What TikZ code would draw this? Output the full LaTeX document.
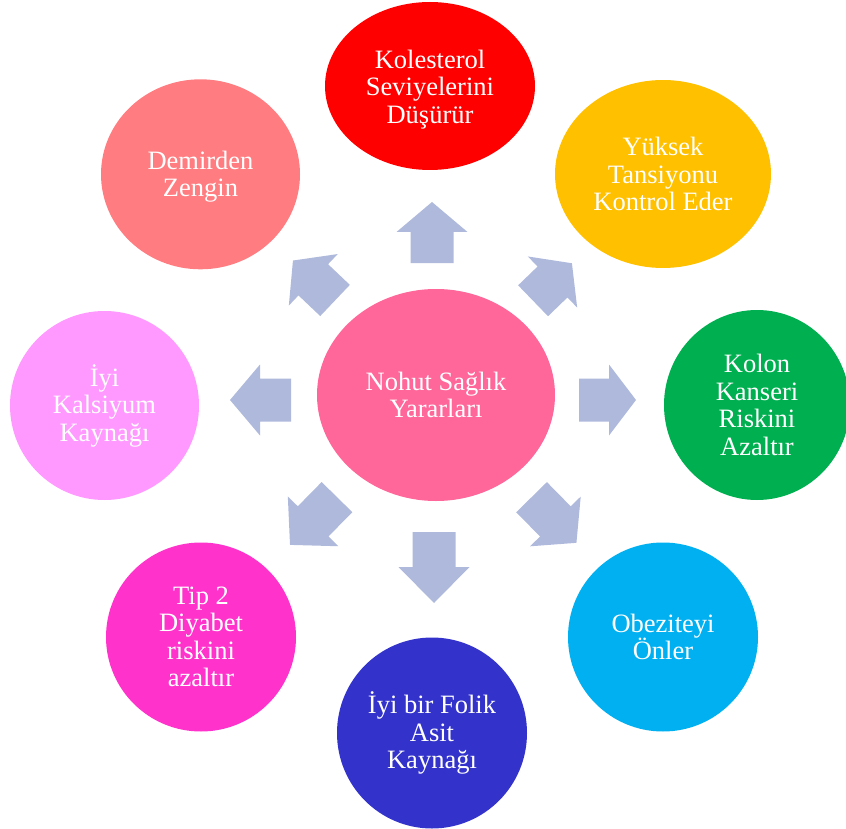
\documentclass[tikz,border=0pt]{standalone}
\usepackage{fontspec}
\setmainfont{Liberation Serif}
\usetikzlibrary{shapes.geometric}
\definecolor{cCenter}{HTML}{FF6699}
\definecolor{cKol}{HTML}{FF0000}
\definecolor{cYuk}{HTML}{FFC000}
\definecolor{cKolon}{HTML}{00B050}
\definecolor{cObe}{HTML}{00B0F0}
\definecolor{cFol}{HTML}{3333CC}
\definecolor{cTip}{HTML}{FF33CC}
\definecolor{cKal}{HTML}{FF99FF}
\definecolor{cDem}{HTML}{FF7C80}
\definecolor{cArr}{HTML}{AEB9DB}
\tikzset{
  bubble/.style={ellipse, inner sep=0pt, text=white, align=center,
    font=\fontsize{26.5}{27.5}\selectfont},
  arrowfill/.style={fill=cArr}
}
\newcommand\myblockarrow[5]{%
  \begin{scope}[shift={(#1,#2)},rotate=#3]
    \fill[arrowfill] (-#4/2,-21.5) -- ({#4/2-#5},-21.5) -- ({#4/2-#5},-35.5) -- (#4/2,0)
      -- ({#4/2-#5},35.5) -- ({#4/2-#5},21.5) -- (-#4/2,21.5) -- cycle;
  \end{scope}}
% pad the top of the text box by #1 so that the text sits #1/2 lower in the node
\newcommand\mylowered[2]{\raisebox{0pt}[\dimexpr\height+#1pt\relax][\depth]{\begin{tabular}{@{}c@{}}#2\end{tabular}}}
\begin{document}
\begin{tikzpicture}[x=1pt,y=-1pt]
\useasboundingbox (0,0) rectangle (846,829);
% arrows
\myblockarrow{432}{232.5}{90}{61}{30}
\myblockarrow{552.5}{282}{44}{54}{27}
\myblockarrow{607.5}{400}{0}{57}{27}
\myblockarrow{554}{520}{-45.5}{64}{30}
\myblockarrow{434}{567.5}{-90}{71}{36}
\myblockarrow{313.5}{521}{225.5}{67}{33}
\myblockarrow{260.5}{400}{180}{61}{30}
\myblockarrow{314}{280.5}{136.5}{58}{28}
% center
\node[bubble, fill=cCenter, minimum width=238pt, minimum height=212pt] (center) at (436,395) {Nohut Sağlık\\Yararları};
% outer
\node[bubble, fill=cKol, minimum width=210pt, minimum height=168pt] (kol) at (430,86) {\mylowered{9}{Kolesterol\\Seviyelerini\\Düşürür}};
\node[bubble, fill=cYuk, minimum width=216pt, minimum height=188pt] (yuk) at (663,174) {Yüksek\\Tansiyonu\\Kontrol Eder};
\node[bubble, fill=cKolon, minimum width=186pt, minimum height=190pt] (kolon) at (757,405) {Kolon\\Kanseri\\Riskini\\Azaltır};
\node[bubble, fill=cObe, minimum width=190pt, minimum height=189pt] (obe) at (663,637) {Obeziteyi\\Önler};
\node[bubble, fill=cFol, minimum width=190pt, minimum height=191pt] (fol) at (432,733) {İyi bir Folik\\Asit\\Kaynağı};
\node[bubble, fill=cTip, minimum width=190pt, minimum height=189pt] (tip) at (201,637) {Tip 2\\Diyabet\\riskini\\azaltır};
\node[bubble, fill=cKal, minimum width=189pt, minimum height=189pt] (kal) at (104.5,405.5) {İyi\\Kalsiyum\\Kaynağı};
\node[bubble, fill=cDem, minimum width=199pt, minimum height=190pt] (dem) at (200.5,174.3) {\mylowered{6}{Demirden\\Zengin}};
\end{tikzpicture}
\end{document}
